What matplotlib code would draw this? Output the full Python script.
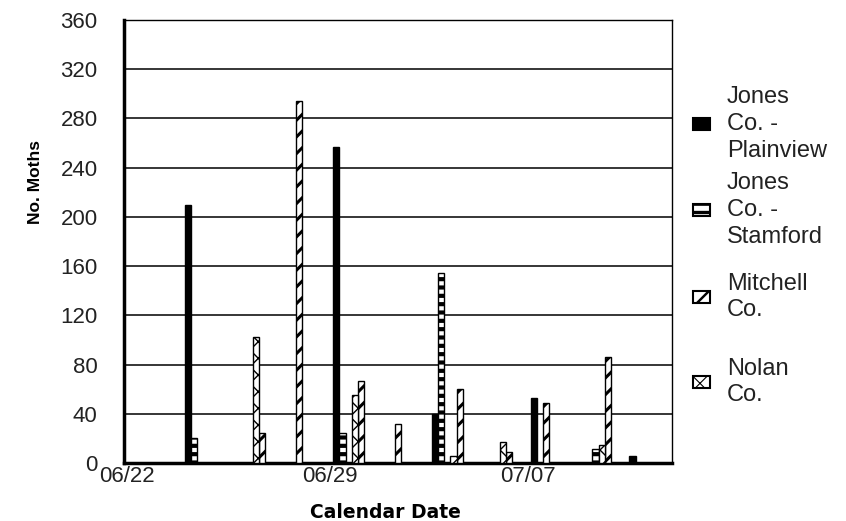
import matplotlib
matplotlib.use("Agg")
import matplotlib as mpl
import matplotlib.pyplot as plt
from matplotlib.patches import Rectangle

# ---------------- data ----------------
series_labels = ["Jones\nCo. -\nPlainview", "Jones\nCo. -\nStamford", "Mitchell\nCo.", "Nolan\nCo."]

plainview_pos = [2.0, 8.0, 12.0, 16.0, 20.0]
plainview_val = [210, 257, 40, 53, 6]

stamford_pos = [2.25, 8.25, 12.25, 18.5]
stamford_val = [20, 24, 154, 11]

mitchell_pos = [5.0, 6.5, 9.0, 10.5, 13.0, 15.0, 16.5, 19.0]
mitchell_val = [24, 294, 67, 32, 60, 9, 49, 86]

nolan_pos = [4.75, 8.75, 12.75, 14.75, 18.75]
nolan_val = [102, 55, 5.5, 17, 15]

x_tick_labels = ["06/22", "06/29", "07/07"]
x_tick_pos = [-0.35, 7.875, 15.9]
y_ticks = [0, 40, 80, 120, 160, 200, 240, 280, 320, 360]

# ---------------- style ----------------
FONT = ["Liberation Sans", "DejaVu Sans"]
plt.rcParams["font.family"] = FONT

W, H = 846, 521
fig = plt.figure(figsize=(W / 100, H / 100), dpi=100)
ax = fig.add_axes([124 / W, 1 - 463 / H, 548 / W, 443 / H])

styles = [
    dict(facecolor="black", hatch=None, hlw=1.0),
    dict(facecolor="white", hatch="--", hlw=3.0),
    dict(facecolor="white", hatch="//", hlw=2.2),
    dict(facecolor="white", hatch="xx", hlw=1.0),
]
data = [(plainview_pos, plainview_val), (stamford_pos, stamford_val),
        (mitchell_pos, mitchell_val), (nolan_pos, nolan_val)]

for (pos, val), st in zip(data, styles):
    with mpl.rc_context({"hatch.linewidth": st["hlw"], "hatch.color": "black"}):
        bars = ax.bar(pos, val, width=0.25, align="edge", facecolor=st["facecolor"],
                      edgecolor="black", linewidth=1.0, hatch=st["hatch"], zorder=3)
        for b in bars:
            if hasattr(b, "set_hatch_linewidth"):
                b.set_hatch_linewidth(st["hlw"])

ax.set_xlim(-0.475, 21.725)
ax.set_ylim(0, 360)
ax.set_yticks(y_ticks)
ax.set_yticklabels([str(v) for v in y_ticks])
ax.set_xticks(x_tick_pos)
ax.set_xticklabels(x_tick_labels)
ax.tick_params(axis="both", length=0, labelsize=16, colors="black")
ax.tick_params(axis="y", pad=19)
ax.tick_params(axis="x", pad=2)
for lbl in ax.get_yticklabels() + ax.get_xticklabels():
    lbl.set_color("#222222")

ax.yaxis.grid(True, color="black", linewidth=1.1, zorder=0)
ax.set_axisbelow(True)
for side in ["top", "right"]:
    ax.spines[side].set_linewidth(1.0)
for side in ["left", "bottom"]:
    ax.spines[side].set_linewidth(2.5)

ax.set_ylabel("No. Moths", fontsize=12.5, fontweight="heavy",
              family=["Liberation Sans Narrow", "Liberation Sans", "DejaVu Sans"])
ax.yaxis.set_label_coords((43 - 124) / 548, (463 - 182) / 443)
ax.set_xlabel("Calendar Date", fontsize=13.5, fontweight="heavy", family=["DejaVu Sans"])
ax.xaxis.set_label_coords((385 - 124) / 548, (463 - 503) / 443)

# ---------------- legend (manual, Excel-like spacing) ----------------
legend_y = [124, 210, 297, 382]
for st, lab, yc in zip(styles, series_labels, legend_y):
    with mpl.rc_context({"hatch.linewidth": st["hlw"] * 0.8}):
        r = Rectangle((693 / W, 1 - (yc + 6) / H), 17 / W, 12 / H, transform=fig.transFigure,
                      facecolor=st["facecolor"], edgecolor="black", linewidth=1.5,
                      hatch=st["hatch"])
        if hasattr(r, "set_hatch_linewidth"):
            r.set_hatch_linewidth(st["hlw"] * 0.8)
    fig.add_artist(r)
    fig.text(727 / W, 1 - yc / H, lab, ha="left", va="center", fontsize=17,
             color="#222222", linespacing=1.27)

fig.savefig("out.png", dpi=100)
